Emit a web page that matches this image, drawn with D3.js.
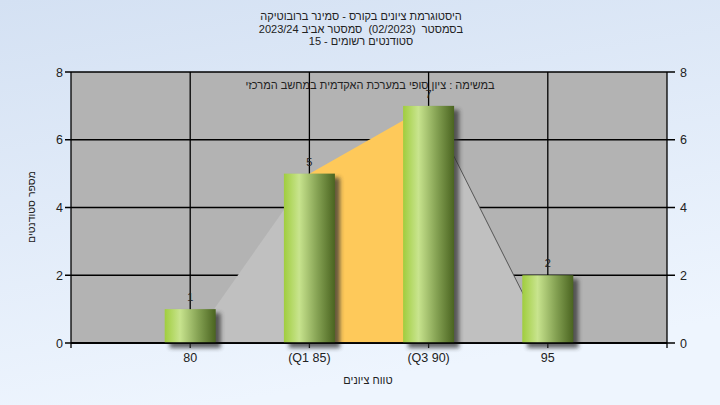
<!DOCTYPE html>
<html><head><meta charset="utf-8">
<script src="https://cdn.jsdelivr.net/npm/d3@7"></script>
<style>html,body{margin:0;padding:0;}svg{display:block;font-family:"Liberation Sans",Arial,sans-serif;}text{white-space:pre;}</style>
</head><body>
<svg id="c" width="720" height="405"></svg>
<script>
const categories = ["80", "(Q1 85)", "(Q3 90)", "95"];
const counts = [1, 5, 7, 2];
const areaValues = [0, 5, 7, 0];
const yTicks = [0, 2, 4, 6, 8];
const titleLines = ["היסטוגרמת ציונים בקורס - סמינר ברובוטיקה", "בסמסטר  (02/2023)  סמסטר אביב 2023/24", "סטודנטים רשומים - 15"];
const noteText = "במשימה : ציון סופי במערכת האקדמית במחשב המרכזי";
const xTitle = "טווח ציונים";
const yTitle = "מספר סטודנטים";

const svg = d3.select("#c");
const W = 720, H = 405;
const L = 71, R = 667, T = 72, B = 343;

const defs = svg.append("defs");
const bg = defs.append("linearGradient").attr("id","bg").attr("x1",0).attr("y1",0).attr("x2",0.3).attr("y2",1);
bg.append("stop").attr("offset","0%").attr("stop-color","#d4e1f3");
bg.append("stop").attr("offset","100%").attr("stop-color","#eef5fe");
const bar = defs.append("linearGradient").attr("id","bar").attr("x1",0).attr("y1",0).attr("x2",1).attr("y2",0);
bar.append("stop").attr("offset","0%").attr("stop-color","#a0cd3e");
bar.append("stop").attr("offset","30%").attr("stop-color","#c8e48e");
bar.append("stop").attr("offset","65%").attr("stop-color","#86a354");
bar.append("stop").attr("offset","100%").attr("stop-color","#4a6420");
const sh = defs.append("filter").attr("id","sh").attr("x","-20%").attr("y","-20%").attr("width","150%").attr("height","150%");
sh.append("feGaussianBlur").attr("stdDeviation",2.2);

svg.append("rect").attr("width",W).attr("height",H).attr("fill","url(#bg)");

const x = d3.scalePoint().domain(categories).range([L, R]).padding(1);
const y = d3.scaleLinear().domain([0, 8]).range([B, T]);

// plot background
svg.append("rect").attr("x",L).attr("y",T).attr("width",R-L).attr("height",B-T).attr("fill","#b3b3b3");

// grid
const g = svg.append("g");
g.selectAll("line.h").data(yTicks).join("line")
  .attr("x1",L-6).attr("x2",R+8).attr("y1",d=>y(d)).attr("y2",d=>y(d))
  .attr("stroke","#000").attr("stroke-width",1.3);
g.selectAll("line.v").data(categories).join("line")
  .attr("x1",d=>x(d)).attr("x2",d=>x(d)).attr("y1",T).attr("y2",B+5)
  .attr("stroke","#000").attr("stroke-width",1.3);

// area shapes
const pts = categories.map((c,i)=>[x(c), y(areaValues[i])]);
svg.append("path").attr("d", d3.line()([[pts[0][0],B],pts[1],[pts[1][0],B]])).attr("fill","#c0c0c0");
svg.append("path").attr("d", d3.line()([[pts[2][0],B],pts[2],pts[3]])).attr("fill","#c0c0c0");
svg.append("path").attr("d", d3.line()([[pts[1][0],B],pts[1],pts[2],[pts[2][0],B]])).attr("fill","#fec95a");
svg.append("line").attr("x1",pts[2][0]).attr("y1",pts[2][1]).attr("x2",pts[3][0]).attr("y2",pts[3][1])
  .attr("stroke","#555").attr("stroke-width",1);

// axes lines
svg.append("line").attr("x1",L).attr("x2",L).attr("y1",T).attr("y2",B+5).attr("stroke","#000").attr("stroke-width",1.3);
svg.append("line").attr("x1",R).attr("x2",R).attr("y1",T).attr("y2",B+5).attr("stroke","#000").attr("stroke-width",1.3);
svg.append("line").attr("x1",L).attr("x2",R).attr("y1",B).attr("y2",B).attr("stroke","#000").attr("stroke-width",1.3);

// bars
const bw = 51;
svg.selectAll("rect.sh").data(counts).join("rect")
  .attr("x",(d,i)=>x(categories[i])-bw/2+5).attr("y",d=>y(d)+4)
  .attr("width",bw).attr("height",d=>B-y(d)+1)
  .attr("fill","#333").attr("opacity",0.75).attr("filter","url(#sh)");
svg.selectAll("rect.bar").data(counts).join("rect")
  .attr("x",(d,i)=>x(categories[i])-bw/2).attr("y",d=>y(d))
  .attr("width",bw).attr("height",d=>B-y(d))
  .attr("fill","url(#bar)");
svg.append("line").attr("x1",L).attr("x2",R).attr("y1",B).attr("y2",B).attr("stroke","#000").attr("stroke-width",1.3);

// value labels
svg.selectAll("text.val").data(counts).join("text")
  .attr("x",(d,i)=>x(categories[i])).attr("y",d=>y(d)-8)
  .attr("text-anchor","middle").attr("font-size",11).attr("fill","#222").text(d=>d);

// note
svg.append("text").attr("x",370).attr("y",89).attr("text-anchor","middle").attr("font-size",11)
  .attr("fill","#222").attr("direction","rtl").attr("unicode-bidi","plaintext").text(noteText);

// tick labels
svg.selectAll("text.yl").data(yTicks).join("text")
  .attr("x",L-8).attr("y",d=>y(d)+4.5).attr("text-anchor","end").attr("font-size",12.5).attr("fill","#222").text(d=>d);
svg.selectAll("text.yr").data(yTicks).join("text")
  .attr("x",R+13).attr("y",d=>y(d)+4.5).attr("text-anchor","start").attr("font-size",12.5).attr("fill","#222").text(d=>d);
svg.selectAll("text.xl").data(categories).join("text")
  .attr("x",d=>x(d)).attr("y",B+19).attr("text-anchor","middle").attr("font-size",12.5).attr("fill","#222").text(d=>d);

// titles
svg.selectAll("text.t").data(titleLines).join("text")
  .attr("x",361).attr("y",(d,i)=>20+i*12.5).attr("text-anchor","middle").attr("font-size",11)
  .attr("fill","#222").attr("direction","rtl").attr("unicode-bidi","plaintext").text(d=>d);
svg.append("text").attr("x",368).attr("y",384).attr("text-anchor","middle").attr("font-size",11)
  .attr("fill","#222").attr("direction","rtl").text(xTitle);
svg.append("text").attr("transform","translate(35,207) rotate(-90)").attr("text-anchor","middle").attr("font-size",10.5)
  .attr("fill","#222").attr("direction","rtl").text(yTitle);
</script>
</body></html>
